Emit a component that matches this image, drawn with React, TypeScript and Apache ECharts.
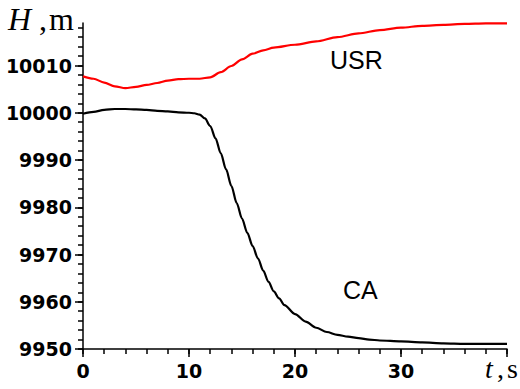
import React, { useEffect, useRef } from "react";
import * as echarts from "echarts";

// USR curve (red)
const usrTime = [0, 1, 2, 3, 4, 5, 6, 7, 8, 9, 10, 11, 12, 13, 14, 15, 16, 17, 18, 20, 22, 24, 26, 28, 30, 32, 34, 36, 38, 40];
const usrHeight = [10007.7, 10007.2, 10006.4, 10005.6, 10005.2, 10005.5, 10005.9, 10006.3, 10006.8, 10007.1, 10007.2, 10007.2, 10007.5, 10008.6, 10009.9, 10011.3, 10012.5, 10013.2, 10013.8, 10014.4, 10015.1, 10016.0, 10016.8, 10017.5, 10018.0, 10018.4, 10018.6, 10018.8, 10018.9, 10018.9];

// CA curve (black)
const caTime = [0, 1, 2, 3, 4, 5, 6, 7, 8, 9, 10, 10.5, 11, 11.5, 12, 12.5, 13, 13.5, 14, 14.5, 15, 15.5, 16, 16.5, 17, 17.5, 18, 18.5, 19, 20, 21, 22, 23, 24, 25, 26, 27, 28, 30, 32, 34, 36, 38, 40];
const caHeight = [9999.8, 10000.2, 10000.6, 10000.8, 10000.8, 10000.7, 10000.6, 10000.4, 10000.3, 10000.1, 10000.0, 9999.9, 9999.6, 9998.8, 9997.2, 9994.6, 9991.4, 9988.0, 9984.5, 9980.9, 9977.6, 9974.6, 9971.8, 9969.2, 9966.6, 9964.2, 9962.2, 9960.7, 9959.3, 9957.4, 9955.8, 9954.5, 9953.6, 9953.0, 9952.6, 9952.3, 9952.0, 9951.8, 9951.6, 9951.4, 9951.2, 9951.1, 9951.1, 9951.1];

// Axis ticks and labels
const xMajorTicks = [0, 10, 20, 30, 40];
const xTickLabels = [0, 10, 20, 30];
const yMajorTicks = [9950, 9960, 9970, 9980, 9990, 10000, 10010];
const yTickLabels = [9950, 9960, 9970, 9980, 9990, 10000, 10010];
const X_MIN = 0, X_MAX = 40, X_MINOR = 2;
const Y_MIN = 9950, Y_MAX = 10019, Y_MINOR = 2, Y_MINOR_LAST = 10018;

const seriesNames = ["USR", "CA"];

function stepValues(min: number, max: number, step: number): number[] {
  const out: number[] = [];
  for (let v = min; v <= max + 1e-9; v += step) out.push(v);
  return out;
}

export default function App() {
  const ref = useRef<HTMLDivElement>(null);
  useEffect(() => {
    if (!ref.current) return;
    const chart = echarts.init(ref.current, null, { renderer: "svg" });
    const tickFont = { fontFamily: "DejaVu Sans", fontWeight: "bold" as const, fontSize: 19, color: "#000" };
    const axisLine = { show: true, onZero: false, lineStyle: { color: "#000", width: 1.5 } };
    const serif = "Liberation Serif";
    const txt = (text: string, x: number, y: number, size: number, italic: boolean) => ({
      type: "text", x, y,
      style: { text, fontFamily: serif, fontStyle: italic ? "italic" : "normal", fontSize: size, fill: "#000", verticalAlign: "middle" },
    });
    chart.setOption({
      animation: false,
      backgroundColor: "#fff",
      grid: { left: 83, right: 13, top: 23, bottom: 40, containLabel: false },
      xAxis: [
        {
          type: "value", min: X_MIN, max: X_MAX, position: "bottom",
          axisLine,
          splitLine: { show: false },
          axisTick: { show: true, inside: false, length: 8, customValues: xMajorTicks, lineStyle: { color: "#000", width: 1.5 } },
          axisLabel: { show: true, margin: 12, customValues: xTickLabels, formatter: (v: number) => String(v), ...tickFont },
        },
        {
          type: "value", min: X_MIN, max: X_MAX, position: "bottom",
          axisLine: { show: false },
          splitLine: { show: false },
          axisTick: { show: true, length: 5, customValues: stepValues(X_MIN, X_MAX, X_MINOR), lineStyle: { color: "#000", width: 1.5 } },
          axisLabel: { show: false },
        },
      ],
      yAxis: [
        {
          type: "value", min: Y_MIN, max: Y_MAX, position: "left",
          axisLine,
          splitLine: { show: false },
          axisTick: { show: true, length: 8, customValues: yMajorTicks, lineStyle: { color: "#000", width: 1.5 } },
          axisLabel: { show: true, margin: 11, customValues: yTickLabels, formatter: (v: number) => String(v), ...tickFont },
        },
        {
          type: "value", min: Y_MIN, max: Y_MAX, position: "left",
          axisLine: { show: false },
          splitLine: { show: false },
          axisTick: { show: true, length: 5, customValues: stepValues(Y_MIN, Y_MINOR_LAST, Y_MINOR), lineStyle: { color: "#000", width: 1.5 } },
          axisLabel: { show: false },
        },
      ],
      series: [
        {
          name: seriesNames[0], type: "line", xAxisIndex: 0, yAxisIndex: 0,
          data: usrTime.map((t, i) => [t, usrHeight[i]]),
          showSymbol: false, smooth: 0.3, smoothMonotone: "x",
          lineStyle: { color: "#ff0000", width: 2.2 },
        },
        {
          name: seriesNames[1], type: "line", xAxisIndex: 0, yAxisIndex: 0,
          data: caTime.map((t, i) => [t, caHeight[i]]),
          showSymbol: false, smooth: 0.3, smoothMonotone: "x",
          lineStyle: { color: "#000", width: 2.2 },
        },
      ],
      graphic: [
        txt("H", 8, 19, 32, true),
        txt(",", 39, 19, 32, false),
        txt("m", 49, 19, 32, false),
        txt("t", 485, 368, 28, true),
        txt(",", 497, 368, 28, false),
        txt("s", 507, 368, 28, false),
        {
          type: "text", x: 330, y: 60,
          style: { text: seriesNames[0], fontFamily: "Liberation Sans", fontSize: 25, fill: "#000", verticalAlign: "middle" },
        },
        {
          type: "text", x: 343, y: 290,
          style: { text: seriesNames[1], fontFamily: "Liberation Sans", fontSize: 25, fill: "#000", verticalAlign: "middle" },
        },
      ],
    });
    return () => chart.dispose();
  }, []);
  return <div ref={ref} style={{ position: "fixed", left: 0, top: 0, width: 520, height: 389 }} />;
}
